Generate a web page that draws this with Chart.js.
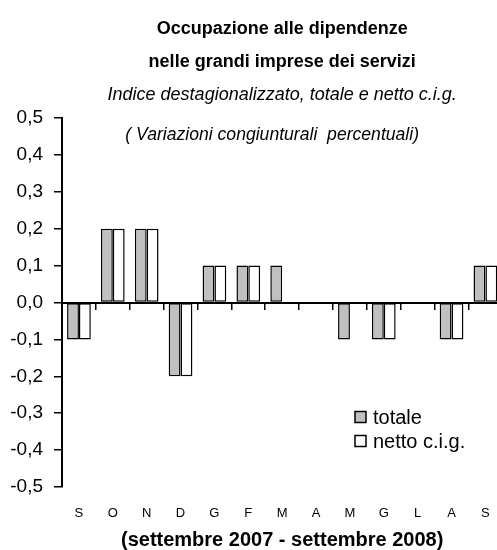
<!DOCTYPE html>
<html>
<head>
<meta charset="utf-8">
<script src="https://cdn.jsdelivr.net/npm/chart.js@4.4.1/dist/chart.umd.min.js"></script>
<style>
    html, body { margin: 0; padding: 0; background: #fff; overflow: hidden; }
    #contenitore { width: 509px; height: 550px; }
</style>
</head>
<body>
<div id="contenitore"><canvas id="graficoServizi"></canvas></div>
<script>
const mesi = ["S", "O", "N", "D", "G", "F", "M", "A", "M", "G", "L", "A", "S"];
const totale = [-0.1, 0.2, 0.2, -0.2, 0.1, 0.1, 0.1, 0, -0.1, -0.1, 0, -0.1, 0.1];
const nettoCig = [-0.1, 0.2, 0.2, -0.2, 0.1, 0.1, 0, 0, 0, -0.1, 0, -0.1, 0.1];
const nomiSerie = ["totale", "netto c.i.g."];
const titolo = ["Occupazione alle dipendenze", "nelle grandi imprese dei servizi"];
const sottotitolo = "Indice destagionalizzato, totale e netto c.i.g.";
const nota = "( Variazioni congiunturali  percentuali)";
const periodo = "(settembre 2007 - settembre 2008)";

const FONT = '"Liberation Sans", Arial, sans-serif';

Chart.defaults.color = "#000";

// testo tra parentesi dentro il grafico e legenda in basso a destra
const testiExtra = {
    id: "testiExtra",
    afterDraw(chart) {
        const ctx = chart.ctx;
        const area = chart.chartArea;
        const tb = chart.titleBlock;
        ctx.save();
        ctx.fillStyle = "#000";
        ctx.textAlign = "center";
        ctx.textBaseline = "middle";
        ctx.font = "italic 17.6px " + FONT;
        ctx.fillText(nota, tb.left + tb.width / 2 - 10, area.top + 17);

        ctx.font = "20px " + FONT;
        ctx.textAlign = "left";
        chart.data.datasets.forEach((ds, i) => {
            const y = area.top + 299 + i * 24;
            const x = area.left + 293;
            ctx.fillStyle = ds.backgroundColor;
            ctx.fillRect(x, y - 5.5, 11, 11);
            ctx.strokeStyle = "#000";
            ctx.lineWidth = 1.5;
            ctx.strokeRect(x, y - 5.5, 11, 11);
            ctx.fillStyle = "#000";
            ctx.fillText(ds.label, x + 18, y + 1);
        });
        ctx.restore();
    }
};

new Chart(document.getElementById("graficoServizi"), {
    type: "bar",
    data: {
        labels: mesi,
        datasets: [
            {
                label: nomiSerie[0],
                data: totale,
                backgroundColor: "#c0c0c0",
                borderColor: "#000",
                borderWidth: 1.5,
                borderSkipped: false,
            },
            {
                label: nomiSerie[1],
                data: nettoCig,
                backgroundColor: "#ffffff",
                borderColor: "#000",
                borderWidth: 1.5,
                borderSkipped: false,
            },
        ],
    },
    options: {
        responsive: true,
        maintainAspectRatio: false,
        animation: false,
        layout: { padding: 0 },
        datasets: { bar: { categoryPercentage: 0.7, barPercentage: 1 } },
        plugins: {
            legend: { display: false },
            tooltip: { enabled: false },
            title: {
                display: true,
                fullSize: false,
                text: titolo,
                font: { family: FONT, size: 18, weight: "bold", lineHeight: 33 / 18 },
                padding: { top: 13, bottom: 0 },
            },
            subtitle: {
                display: true,
                fullSize: false,
                text: sottotitolo,
                font: { family: FONT, size: 18, style: "italic", lineHeight: 32 / 18 },
                padding: { top: 0, bottom: 7 },
            },
        },
        scales: {
            x: {
                position: "bottom",
                border: { display: false },
                grid: { display: false, drawTicks: false },
                ticks: { padding: 19, font: { family: FONT, size: 13 } },
                title: {
                    display: true,
                    text: periodo,
                    font: { family: FONT, size: 20, weight: "bold", lineHeight: 1 },
                    padding: { top: 0, bottom: 0 },
                },
                afterFit(scale) { scale.height = 63; },
            },
            asseZero: {
                type: "category",
                axis: "x",
                labels: mesi,
                position: { y: 0 },
                offset: true,
                border: { display: true, color: "#000", width: 2 },
                grid: { drawOnChartArea: false, drawTicks: true, tickLength: 6, color: "#000", lineWidth: 1.5, offset: true },
                ticks: { display: false },
            },
            y: {
                min: -0.5,
                max: 0.5,
                border: { color: "#000", width: 2 },
                grid: { drawOnChartArea: false, tickLength: 8, color: "#000", lineWidth: 1.5 },
                ticks: {
                    stepSize: 0.1,
                    padding: 11,
                    font: { family: FONT, size: 19 },
                    callback: v => v.toFixed(1).replace(".", ","),
                },
                afterFit(scale) { scale.width = 62; },
            },
        },
    },
    plugins: [testiExtra],
});
</script>
</body>
</html>
